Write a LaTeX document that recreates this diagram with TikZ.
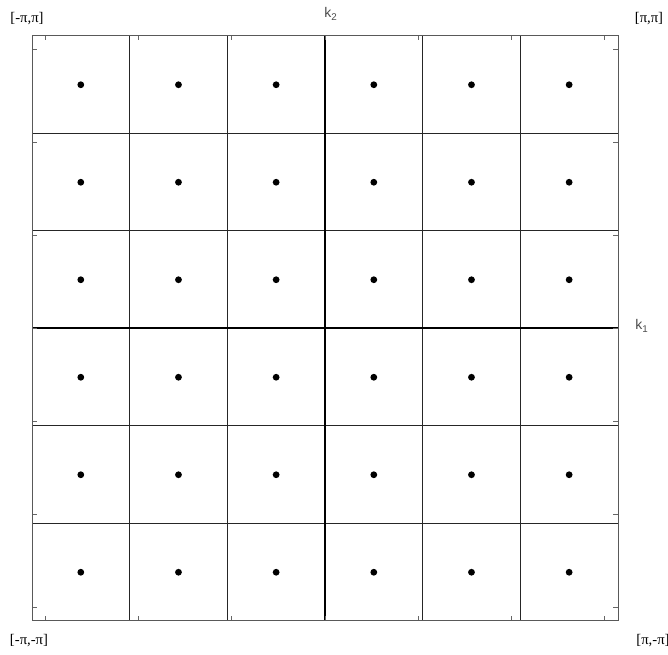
\documentclass[tikz,border=0pt]{standalone}
\usepackage{fontspec}
\setmainfont{Liberation Serif}
\setsansfont{Liberation Sans}

\begin{document}
\begin{tikzpicture}[x=0.75pt, y=-0.75pt,
		corner/.style={font=\fontsize{11}{12}\selectfont, inner sep=0pt},
		axlabel/.style={font=\sffamily\fontsize{10.5}{12}\selectfont, text=black!70, inner sep=0pt}]
			\useasboundingbox (0,0) rectangle (668,655);
			% Cell lines
			\foreach \i in {1,2,4,5} {
				\draw[black!85, line width=0.75pt] ({32+97.67*\i},36) -- ({32+97.67*\i},621);
				\draw[black!85, line width=0.75pt] (32,{36+97.5*\i}) -- (618,{36+97.5*\i});
			}
			% Axes through the origin
			\draw[line width=1.5pt] (325,36) -- (325,621);
			\draw[line width=1.5pt] (32,328.5) -- (618,328.5);
			% Ticks at integer values
			\foreach \t in {-3,...,3} {
				\draw[black!60, line width=0.75pt] ({325+93.27*\t},36) -- ({325+93.27*\t},40);
				\draw[black!60, line width=0.75pt] ({325+93.27*\t},621) -- ({325+93.27*\t},616);
				\draw[black!60, line width=0.75pt] (32,{328.5-93.1*\t}) -- (37,{328.5-93.1*\t});
				\draw[black!60, line width=0.75pt] (618,{328.5-93.1*\t}) -- (613,{328.5-93.1*\t});
			}
			% Frame
			\draw[black!65, line width=0.75pt] (32,36) rectangle (618,621);
			% Points
			\foreach \i in {0,...,5}
				\foreach \j in {0,...,5}
					\fill ({80.8+97.67*\i},{84.75+97.5*\j}) circle (3.4);
			% Corner labels
			\node[corner] (tl) at (27,19) {[-π,π]};
			\node[corner] (tr) at (649,19) {[π,π]};
			\node[corner] (bl) at (29,641) {[-π,-π]};
			\node[corner] (br) at (653,641) {[π,-π]};
			% Axis labels
			\node[axlabel] (kb) at (331,14) {k\textsubscript{2}};
			\node[axlabel] (ka) at (642,326) {k\textsubscript{1}};
		\end{tikzpicture}
\end{document}
